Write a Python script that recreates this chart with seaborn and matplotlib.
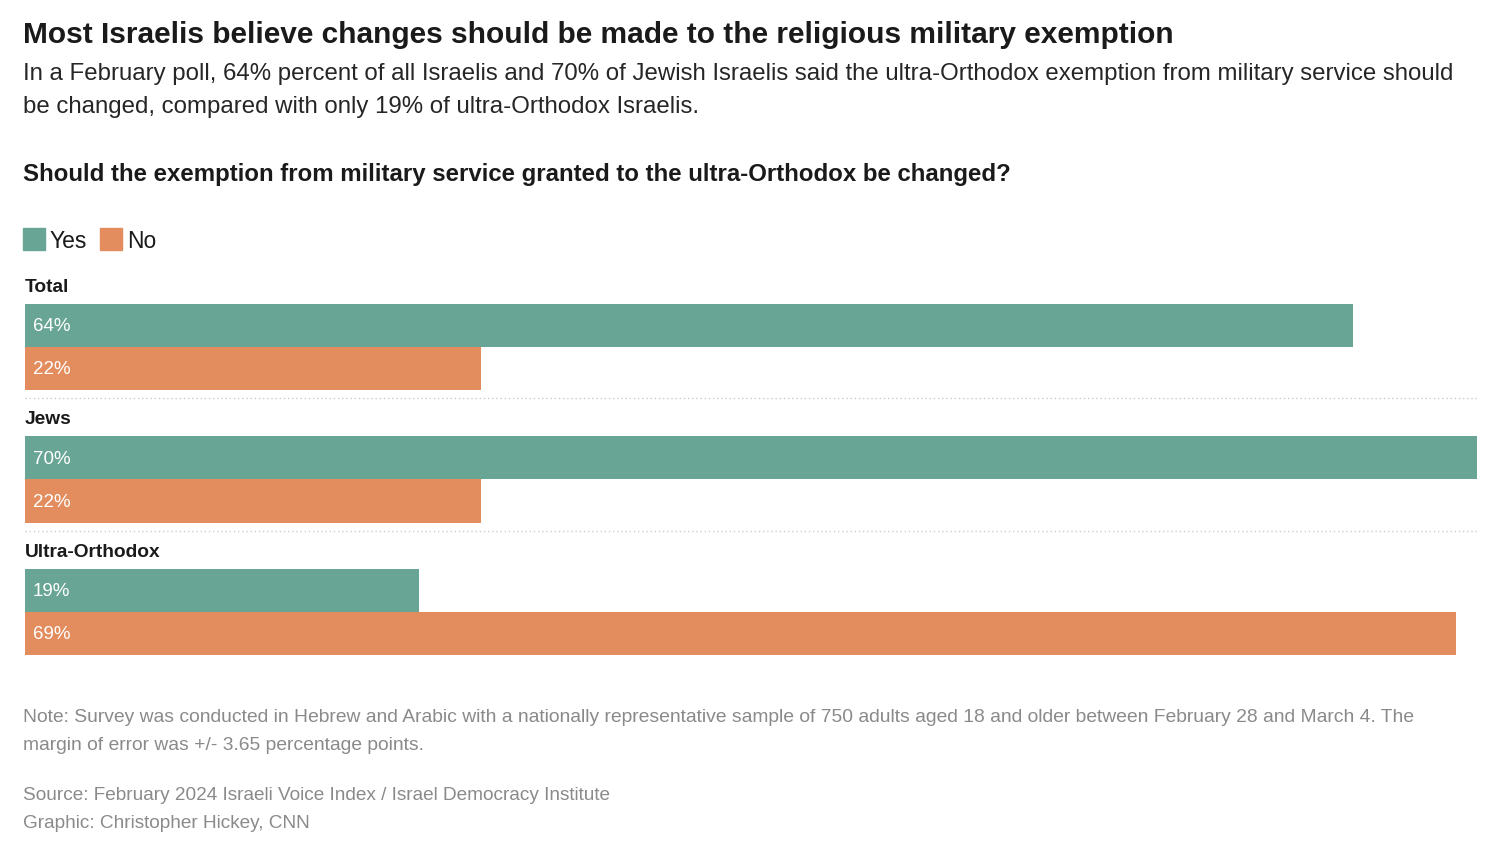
import pandas as pd
import matplotlib.pyplot as plt
import seaborn as sns

groups = ["Total", "Jews", "Ultra-Orthodox"]
answers = ["Yes", "No"]
yes_vals = [64, 70, 19]
no_vals = [22, 22, 69]

colors = {"Yes": "#68a594", "No": "#e38d5e"}

df = pd.DataFrame({
    "group": groups * 2,
    "answer": ["Yes"] * 3 + ["No"] * 3,
    "pct": yes_vals + no_vals,
})

sns.set_theme(style="white")
plt.rcParams["font.family"] = ["Liberation Sans", "DejaVu Sans"]

W, H = 1509, 848
fig = plt.figure(figsize=(W / 100, H / 100), dpi=100)


def fy(y):
    return 1 - y / H


def fx(x):
    return x / W


# axes spans px 25..1477 horizontally, 270..656 vertically
ax = fig.add_axes([fx(25), fy(656), fx(1477) - fx(25), fy(270) - fy(656)])
sns.barplot(data=df, y="group", x="pct", hue="answer", order=groups,
            hue_order=answers, palette=colors, width=0.65, gap=0,
            orient="h", ax=ax, legend=False, saturation=1, linewidth=0)

ax.set_xlim(0, 70)
ax.set_ylim(2.332, -0.581)
ax.set_xlabel("")
ax.set_ylabel("")
ax.set_xticks([])
ax.set_yticks([])
sns.despine(ax=ax, left=True, bottom=True)

for bar in ax.patches:
    if bar.get_width() <= 0:
        continue
    ax.annotate(f"{bar.get_width():.0f}%",
                (0, bar.get_y() + bar.get_height() / 2),
                xytext=(5.5, -1), textcoords="offset points",
                ha="left", va="center", color="white", fontsize=13.5)

for i, g in enumerate(groups):
    ax.text(0, i - 0.45, g, ha="left", va="center", fontsize=13.8,
            fontweight="bold", color="#1a1a1a")
    if i < len(groups) - 1:
        ax.axhline(i + 0.385, color="#cccccc", lw=1, ls=(0, (1, 2)))

# header
fig.text(fx(23), fy(35), "Most Israelis believe changes should be made to the religious military exemption",
         ha="left", va="center", fontsize=21.5, fontweight="bold", color="#1a1a1a")
fig.text(fx(23), fy(74), "In a February poll, 64% percent of all Israelis and 70% of Jewish Israelis said the ultra-Orthodox exemption from military service should",
         ha="left", va="center", fontsize=17.3, color="#262626")
fig.text(fx(23), fy(107), "be changed, compared with only 19% of ultra-Orthodox Israelis.",
         ha="left", va="center", fontsize=17.3, color="#262626")
fig.text(fx(23), fy(175), "Should the exemption from military service granted to the ultra-Orthodox be changed?",
         ha="left", va="center", fontsize=17.3, fontweight="bold", color="#1a1a1a")

# legend
lx = 23
for a in answers:
    fig.patches.append(plt.Rectangle((fx(lx), fy(250)), fx(22), 22 / H,
                                     transform=fig.transFigure, color=colors[a]))
    fig.text(fx(lx + 27), fy(241), a, ha="left", va="center",
             fontsize=16.5, color="#1a1a1a")
    lx += 77

# notes
gray = "#8a8a8a"
fig.text(fx(23), fy(718), "Note: Survey was conducted in Hebrew and Arabic with a nationally representative sample of 750 adults aged 18 and older between February 28 and March 4. The",
         ha="left", va="center", fontsize=13.9, color=gray)
fig.text(fx(23), fy(745), "margin of error was +/- 3.65 percentage points.",
         ha="left", va="center", fontsize=13.9, color=gray)
fig.text(fx(23), fy(796), "Source: February 2024 Israeli Voice Index / Israel Democracy Institute",
         ha="left", va="center", fontsize=13.7, color=gray)
fig.text(fx(23), fy(823), "Graphic: Christopher Hickey, CNN",
         ha="left", va="center", fontsize=13.7, color=gray)

fig.savefig("out.png", dpi=100, facecolor="white")
